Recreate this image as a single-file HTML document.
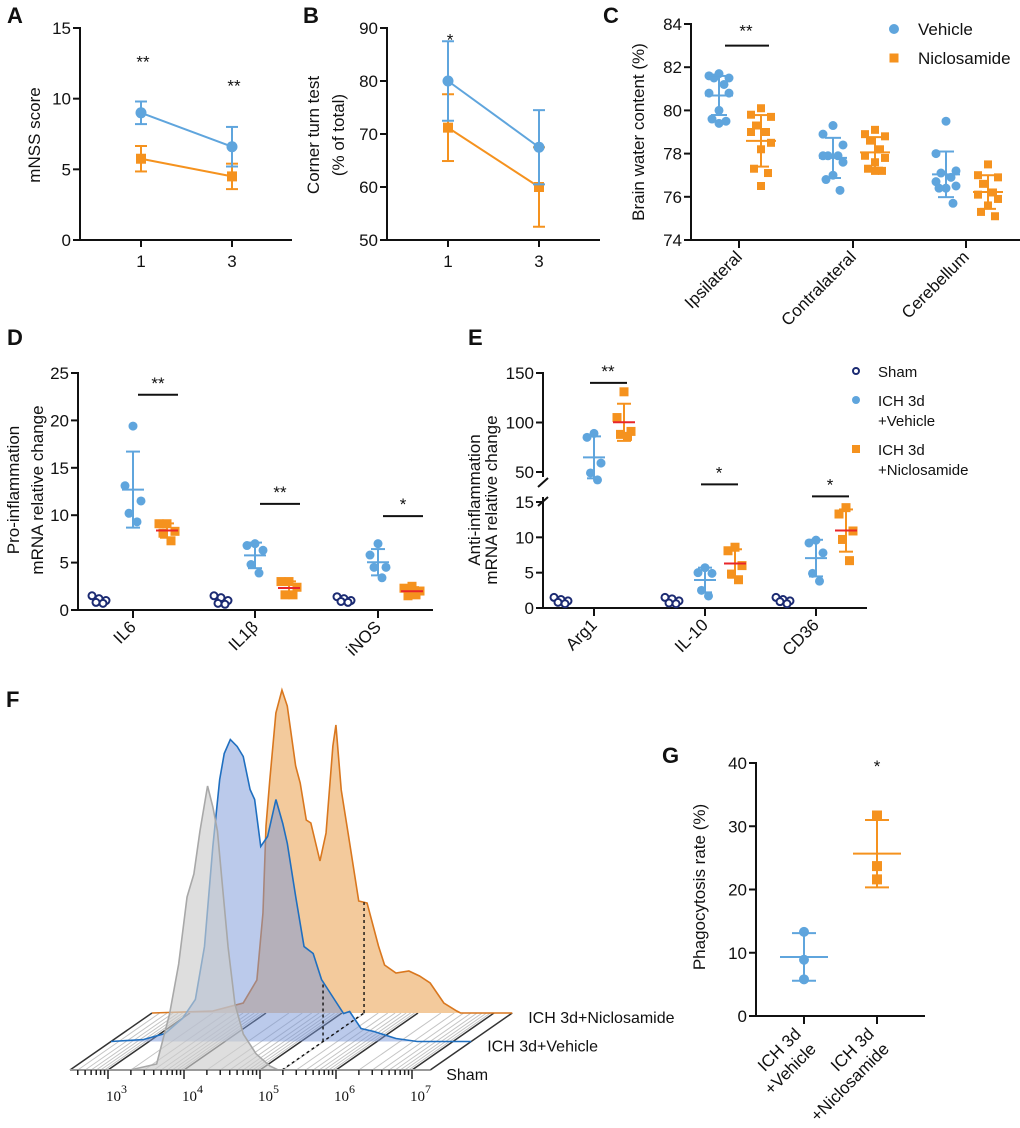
<!DOCTYPE html>
<html><head><meta charset="utf-8">
<style>
html,body{margin:0;padding:0;background:#fff;}
svg{display:block;font-family:"Liberation Sans",Arial,sans-serif;}
</style></head>
<body>
<svg id="fig" width="1020" height="1128" viewBox="0 0 1020 1128" xmlns="http://www.w3.org/2000/svg"></svg>
<script>
// ---------- DATA ----------
// Panel A (mNSS)
const aDays = [1, 3];
const aVehMean = [9.0, 6.6];
const aVehSD = [0.8, 1.4];
const aNicMean = [5.75, 4.5];
const aNicSD = [0.9, 0.9];
const aTicks = [0, 5, 10, 15];
const aSig = ['**', '**'];
const aSigY = [12.9, 11.2];
// Panel B (corner turn)
const bDays = [1, 3];
const bVehMean = [80, 67.5];
const bVehSD = [7.5, 7.0];
const bNicMean = [71.2, 60];
const bNicSD = [6.3, 7.5];
const bTicks = [50, 60, 70, 80, 90];
const bSig = ['*', ''];
const bSigY = [88.6, 0];
// Panel C (brain water)
const cCats = ['Ipsilateral', 'Contralateral', 'Cerebellum'];
const cVeh = [
  [81.7, 81.6, 81.5, 81.5, 81.2, 80.8, 80.8, 80.0, 79.6, 79.5, 79.4],
  [79.3, 78.9, 78.4, 77.9, 77.9, 77.9, 77.6, 77.0, 76.8, 76.3],
  [79.5, 78.0, 77.2, 77.1, 76.9, 76.7, 76.5, 76.4, 76.4, 75.7]
];
const cNic = [
  [80.1, 79.8, 79.7, 79.3, 79.0, 79.0, 78.5, 78.2, 77.3, 77.1, 76.5],
  [79.1, 78.9, 78.8, 78.6, 78.2, 77.9, 77.8, 77.6, 77.3, 77.2, 77.2],
  [77.5, 77.0, 76.9, 76.6, 76.2, 76.1, 75.9, 75.6, 75.3, 75.1]
];
const cTicks = [74, 76, 78, 80, 82, 84];
const cSigCat = [0];
const cSigY = [83.0];
const cSigLbl = ['**'];
// Panel D (pro-inflammation)
const dCats = ['IL6', 'IL1\u03b2', 'iNOS'];
const dSham = [[1.5, 1.2, 1.0, 0.8, 0.7], [1.5, 1.3, 1.0, 0.7, 0.6], [1.4, 1.2, 1.0, 0.9, 0.8]];
const dVeh = [[19.4, 13.1, 11.5, 10.2, 9.3], [7.0, 6.8, 6.3, 4.8, 3.9], [7.0, 5.8, 4.5, 4.5, 3.4]];
const dNic = [[9.1, 9.1, 8.3, 8.1, 7.3], [3.0, 3.0, 2.4, 1.6, 1.6], [2.5, 2.3, 2.0, 1.5, 1.6]];
const dTicks = [0, 5, 10, 15, 20, 25];
const dSigY = [22.7, 11.2, 9.9];
const dSigLbl = ['**', '**', '*'];
// Panel E (anti-inflammation)
const eCats = ['Arg1', 'IL-10', 'CD36'];
const eSham = [[1.5, 1.2, 1.0, 0.8, 0.6], [1.5, 1.3, 1.0, 0.7, 0.6], [1.5, 1.2, 1.0, 0.9, 0.6]];
const eVeh = [[89, 85, 59, 49, 42], [5.7, 5.0, 4.9, 2.5, 1.7], [9.6, 9.2, 7.8, 4.9, 3.8]];
const eNic = [[131, 105, 91, 88, 86], [8.6, 8.1, 6.0, 4.8, 4.0], [14.2, 13.3, 10.9, 9.7, 6.7]];
const eTicksLow = [0, 5, 10, 15];
const eTicksHigh = [50, 100, 150];
const eSigY = [140, 17.5, 15.8];
const eSigLbl = ['**', '*', '*'];
// Panel F (flow histograms) log10 fluorescence vs counts
const fShamLog = [3.29, 3.64, 3.81, 3.93, 4.04, 4.13, 4.21, 4.31, 4.38, 4.44, 4.50, 4.58, 4.67, 4.78, 4.95, 5.13, 5.24];
const fShamCnt = [0, 6, 56, 106, 173, 196, 239, 284, 263, 239, 189, 123, 66, 36, 16, 4, 0];
const fVehLog = [2.50, 2.93, 3.21, 3.44, 3.61, 3.73, 3.84, 3.93, 3.99, 4.07, 4.16, 4.24, 4.33, 4.39, 4.47, 4.56, 4.67, 4.76, 4.82, 4.93, 5.04, 5.16, 5.27, 5.44, 5.56, 5.64, 5.79, 5.96, 6.25, 6.53, 7.24];
const fVehCnt = [0, 2, 8, 23, 42, 95, 195, 262, 288, 302, 295, 285, 252, 242, 195, 205, 242, 218, 198, 145, 95, 88, 62, 42, 28, 30, 13, 10, 3, 0, 0];
const fNicLog = [2.50, 3.30, 3.70, 3.88, 3.96, 4.00, 4.05, 4.13, 4.21, 4.28, 4.39, 4.45, 4.53, 4.59, 4.71, 4.79, 4.88, 4.92, 4.99, 5.08, 5.22, 5.33, 5.48, 5.56, 5.71, 5.88, 6.02, 6.16, 6.34, 6.51, 6.56, 7.24];
const fNicCnt = [0, 2, 10, 33, 100, 187, 233, 300, 323, 307, 247, 230, 193, 190, 152, 180, 267, 288, 223, 180, 112, 110, 67, 48, 40, 42, 37, 30, 10, 2, 0, 0];
const fDecades = [3, 4, 5, 6, 7];
const fGateLog = 5.29;
const fLayerNames = ['Sham', 'ICH 3d+Vehicle', 'ICH 3d+Niclosamide'];
// Panel G (phagocytosis)
const gCats = ['ICH 3d|+Vehicle', 'ICH 3d|+Niclosamide'];
const gVeh = [13.3, 8.9, 5.8];
const gNic = [31.7, 23.7, 21.6];
const gTicks = [0, 10, 20, 30, 40];

// ---------- HELPERS ----------
const NS = 'http://www.w3.org/2000/svg';
const svg = document.getElementById('fig');
const BLUE = '#5fa5dd', ORANGE = '#f5921e', NAVY = '#1b2a72', RED = '#e8262a';
function mk(tag, attrs, name, parent) {
  const el = document.createElementNS(NS, tag);
  for (const k in attrs) el.setAttribute(k, attrs[k]);
  
  
  (parent || svg).appendChild(el);
  return el;
}
function txt(x, y, s, size, name, extra) {
  const a = Object.assign({x: x, y: y, 'font-size': size, fill: '#111'}, extra || {});
  const el = mk('text', a, name);
  el.textContent = s;
  return el;
}
function line(x1, y1, x2, y2, color, w, name, extra) {
  return mk('line', Object.assign({x1: x1, y1: y1, x2: x2, y2: y2, stroke: color, 'stroke-width': w}, extra || {}), name);
}
function marker(type, x, y, s, color, name) {
  if (type === 'circle') return mk('circle', {cx: x, cy: y, r: s / 2, fill: color}, name);
  if (type === 'open') return mk('circle', {cx: x, cy: y, r: s / 2 - 1, fill: 'white', stroke: color, 'stroke-width': 2}, name);
  return mk('rect', {x: x - s / 2, y: y - s / 2, width: s, height: s, fill: color}, name);
}
function meanOf(a) { return a.reduce((s, v) => s + v, 0) / a.length; }
function sdOf(a) { const m = meanOf(a); return Math.sqrt(a.reduce((s, v) => s + (v - m) * (v - m), 0) / (a.length - 1)); }
function yLinear(v0, v1, p0, p1) { return v => p0 + (v - v0) * (p1 - p0) / (v1 - v0); }
function rotLabel(x, y, s, size, name, anchor) {
  return txt(x, y, s, size, name, {'text-anchor': anchor || 'end', transform: 'rotate(-45 ' + x + ' ' + y + ')'});
}
function yTitle(cx, cy, s, name) {
  return txt(cx, cy, s, 17, name, {'text-anchor': 'middle', transform: 'rotate(-90 ' + cx + ' ' + cy + ')'});
}
function yAxis(ax, yTop, yBot, ticks, yFn, name) {
  line(ax, yTop - 1, ax, yBot + 1, '#111', 2, name + '-line');
  ticks.forEach(t => {
    const y = yFn(t);
    line(ax - 7, y, ax, y, '#111', 2, name + '-tick');
    txt(ax - 9, y + 6, String(t), 17, name + '-tick-label', {'text-anchor': 'end'});
  });
}
function errBar(x, yHi, yLo, cap, color, name) {
  line(x, yHi, x, yLo, color, 2, name);
  line(x - cap, yHi, x + cap, yHi, color, 2, name + '-cap');
  line(x - cap, yLo, x + cap, yLo, color, 2, name + '-cap');
}
const SHAM_JIT = [-7, 0, 7, -3, 4];

// ---------- LINE PANELS A, B ----------
function linePanel(p) {
  const yFn = yLinear(p.ticks[0], p.ticks[p.ticks.length - 1], p.yBot, p.yTop);
  const xFn = d => p.x1 + (d - p.days[0]) * (p.x3 - p.x1) / (p.days[1] - p.days[0]);
  yAxis(p.ax, p.yTop, p.yBot, p.ticks, yFn, p.name + '-y-axis');
  line(p.ax - 1, p.yBot, p.xEnd, p.yBot, '#111', 2, p.name + '-x-axis');
  p.days.forEach(d => {
    line(xFn(d), p.yBot, xFn(d), p.yBot + 7, '#111', 2, p.name + '-x-tick');
    txt(xFn(d), p.yBot + 27, String(d), 17, p.name + '-x-tick-label', {'text-anchor': 'middle'});
  });
  const series = [[p.nicMean, p.nicSD, ORANGE, 'square', 'niclosamide'], [p.vehMean, p.vehSD, BLUE, 'circle', 'vehicle']];
  series.forEach(s => {
    const pts = p.days.map((d, i) => xFn(d) + ',' + yFn(s[0][i])).join(' ');
    mk('polyline', {points: pts, fill: 'none', stroke: s[2], 'stroke-width': 2}, p.name + '-' + s[4] + '-line');
    p.days.forEach((d, i) => {
      errBar(xFn(d), yFn(s[0][i] + s[1][i]), yFn(s[0][i] - s[1][i]), 6, s[2], p.name + '-' + s[4] + '-error-bar');
      marker(s[3], xFn(d), yFn(s[0][i]), s[3] === 'circle' ? 11 : 10, s[2], p.name + '-' + s[4] + '-point');
    });
  });
  p.sig.forEach((s, i) => { if (s) txt(xFn(p.days[i]) + 2, yFn(p.sigY[i]) + 10, s, 17, p.name + '-significance', {'text-anchor': 'middle'}); });
}
linePanel({name: 'panel-a', ax: 80, yTop: 28, yBot: 240, xEnd: 292, x1: 141, x3: 232, days: aDays, ticks: aTicks,
  vehMean: aVehMean, vehSD: aVehSD, nicMean: aNicMean, nicSD: aNicSD, sig: aSig, sigY: aSigY});
linePanel({name: 'panel-b', ax: 387, yTop: 28, yBot: 240, xEnd: 600, x1: 448, x3: 539, days: bDays, ticks: bTicks,
  vehMean: bVehMean, vehSD: bVehSD, nicMean: bNicMean, nicSD: bNicSD, sig: bSig, sigY: bSigY});
yTitle(40, 135, 'mNSS score', 'panel-a-y-title');
yTitle(319, 135, 'Corner turn test', 'panel-b-y-title');
yTitle(344, 135, '(% of total)', 'panel-b-y-title-2');

// ---------- SCATTER PANELS ----------
function jitterFor(n, i, w) {
  const pat = [0, -1, 1, -0.5, 0.5, -1, 1, 0, -0.7, 0.7, 0];
  return pat[i % pat.length] * w;
}
function scatterGroup(vals, cx, yFn, g, name) {
  vals.forEach((v, i) => marker(g.marker, cx + jitterFor(vals.length, i, g.jit), yFn(v), g.size, g.color, name + '-point'));
  const m = meanOf(vals), sd = sdOf(vals);
  errBar(cx, yFn(m + sd), yFn(m - sd), g.cap, g.color, name + '-sd');
  line(cx - g.mean, yFn(m), cx + g.mean, yFn(m), g.meanColor, 2, name + '-mean');
}

// Panel C
(function () {
  const yFn = yLinear(74, 84, 240, 24);
  yAxis(691, 24, 240, cTicks, yFn, 'panel-c-y-axis');
  line(690, 240, 1020, 240, '#111', 2, 'panel-c-x-axis');
  const catX = [739, 853, 966];
  cCats.forEach((c, i) => {
    line(catX[i], 240, catX[i], 248, '#111', 2, 'panel-c-x-tick');
    rotLabel(catX[i] + 4, 258, c, 17, 'panel-c-x-label');
    scatterGroup(cVeh[i], catX[i] - 20, yFn, {marker: 'circle', size: 9, color: BLUE, meanColor: BLUE, jit: 10, cap: 8, mean: 14}, 'panel-c-vehicle');
    scatterGroup(cNic[i], catX[i] + 22, yFn, {marker: 'square', size: 8, color: ORANGE, meanColor: ORANGE, jit: 10, cap: 8, mean: 15}, 'panel-c-niclosamide');
  });
  cSigCat.forEach((ci, k) => {
    line(catX[ci] - 14, yFn(cSigY[k]), catX[ci] + 30, yFn(cSigY[k]), '#111', 2, 'panel-c-significance-bar');
    txt(catX[ci] + 7, yFn(cSigY[k]) - 9, cSigLbl[k], 17, 'panel-c-significance', {'text-anchor': 'middle'});
  });
  yTitle(644, 132, 'Brain water content (%)', 'panel-c-y-title');
  marker('circle', 894, 29, 10, BLUE, 'legend-vehicle-marker');
  txt(918, 35, 'Vehicle', 17, 'legend-vehicle-label');
  marker('square', 894, 58, 9, ORANGE, 'legend-niclosamide-marker');
  txt(918, 64, 'Niclosamide', 17, 'legend-niclosamide-label');
})();

// Panel D
(function () {
  const yFn = yLinear(0, 25, 610, 373);
  yAxis(78, 373, 610, dTicks, yFn, 'panel-d-y-axis');
  line(77, 610, 433, 610, '#111', 2, 'panel-d-x-axis');
  const catX = [133, 255, 378];
  dCats.forEach((c, i) => {
    line(catX[i], 610, catX[i], 618, '#111', 2, 'panel-d-x-tick');
    rotLabel(catX[i] + 4, 628, c, 17, 'panel-d-x-label');
    dSham[i].forEach((v, k) => marker('open', catX[i] - 34 + SHAM_JIT[k], yFn(v), 9, NAVY, 'panel-d-sham-point'));
    scatterGroup(dVeh[i], catX[i], yFn, {marker: 'circle', size: 9, color: BLUE, meanColor: BLUE, jit: 8, cap: 7, mean: 11}, 'panel-d-vehicle');
    scatterGroup(dNic[i], catX[i] + 34, yFn, {marker: 'square', size: 9, color: ORANGE, meanColor: RED, jit: 8, cap: 7, mean: 11}, 'panel-d-niclosamide');
    line(catX[i] + 5, yFn(dSigY[i]), catX[i] + 45, yFn(dSigY[i]), '#111', 2, 'panel-d-significance-bar');
    txt(catX[i] + 25, yFn(dSigY[i]) - 6, dSigLbl[i], 17, 'panel-d-significance', {'text-anchor': 'middle'});
  });
  yTitle(19, 490, 'Pro-inflammation', 'panel-d-y-title');
  yTitle(43, 490, 'mRNA relative change', 'panel-d-y-title-2');
})();

// Panel E (broken axis)
(function () {
  const lo = yLinear(0, 15, 608, 502), hi = yLinear(50, 150, 472, 373);
  const yFn = v => v <= 20 ? lo(v) : hi(v);
  line(543, 372, 543, 477, '#111', 2, 'panel-e-y-axis-upper');
  line(543, 497, 543, 609, '#111', 2, 'panel-e-y-axis-lower');
  line(538, 487, 548, 478, '#111', 2, 'panel-e-axis-break');
  line(538, 506, 548, 497, '#111', 2, 'panel-e-axis-break');
  eTicksLow.concat(eTicksHigh).forEach(t => {
    const y = yFn(t);
    line(536, y, 543, y, '#111', 2, 'panel-e-y-tick');
    txt(534, y + 6, String(t), 17, 'panel-e-y-tick-label', {'text-anchor': 'end'});
  });
  line(542, 608, 867, 608, '#111', 2, 'panel-e-x-axis');
  const catX = [594, 705, 816];
  eCats.forEach((c, i) => {
    line(catX[i], 608, catX[i], 616, '#111', 2, 'panel-e-x-tick');
    rotLabel(catX[i] + 4, 626, c, 17, 'panel-e-x-label');
    eSham[i].forEach((v, k) => marker('open', catX[i] - 33 + SHAM_JIT[k], yFn(v), 9, NAVY, 'panel-e-sham-point'));
    scatterGroup(eVeh[i], catX[i], yFn, {marker: 'circle', size: 9, color: BLUE, meanColor: BLUE, jit: 7, cap: 7, mean: 11}, 'panel-e-vehicle');
    scatterGroup(eNic[i], catX[i] + 30, yFn, {marker: 'square', size: 9, color: ORANGE, meanColor: RED, jit: 7, cap: 7, mean: 11}, 'panel-e-niclosamide');
    line(catX[i] - 4, yFn(eSigY[i]), catX[i] + 33, yFn(eSigY[i]), '#111', 2, 'panel-e-significance-bar');
    txt(catX[i] + 14, yFn(eSigY[i]) - 6, eSigLbl[i], 17, 'panel-e-significance', {'text-anchor': 'middle'});
  });
  yTitle(480, 500, 'Anti-inflammation', 'panel-e-y-title');
  yTitle(497, 500, 'mRNA relative change', 'panel-e-y-title-2');
  marker('open', 856, 371, 8, NAVY, 'legend-sham-marker');
  txt(878, 377, 'Sham', 15, 'legend-sham-label');
  marker('circle', 856, 400, 8, BLUE, 'legend-ich-vehicle-marker');
  txt(878, 406, 'ICH 3d', 15, 'legend-ich-vehicle-label');
  txt(878, 426, '+Vehicle', 15, 'legend-ich-vehicle-label-2');
  marker('square', 856, 449, 8, ORANGE, 'legend-ich-niclosamide-marker');
  txt(878, 455, 'ICH 3d', 15, 'legend-ich-niclosamide-label');
  txt(878, 475, '+Niclosamide', 15, 'legend-ich-niclosamide-label-2');
})();

// Panel G
(function () {
  const yFn = yLinear(0, 40, 1016, 763);
  yAxis(756, 763, 1016, gTicks, yFn, 'panel-g-y-axis');
  line(755, 1016, 925, 1016, '#111', 2, 'panel-g-x-axis');
  const catX = [804, 877];
  gCats.forEach((c, i) => {
    line(catX[i], 1016, catX[i], 1024, '#111', 2, 'panel-g-x-tick');
    const parts = c.split('|');
    rotLabel(catX[i] - 2, 1035, parts[0], 17, 'panel-g-x-label');
    rotLabel(catX[i] + 13, 1050, parts[1], 17, 'panel-g-x-label-2');
  });
  scatterGroup(gVeh, catX[0], yFn, {marker: 'circle', size: 10, color: BLUE, meanColor: BLUE, jit: 0, cap: 12, mean: 24}, 'panel-g-vehicle');
  scatterGroup(gNic, catX[1], yFn, {marker: 'square', size: 10, color: ORANGE, meanColor: ORANGE, jit: 0, cap: 12, mean: 24}, 'panel-g-niclosamide');
  txt(catX[1], yFn(38.6), '*', 17, 'panel-g-significance', {'text-anchor': 'middle'});
  yTitle(705, 887, 'Phagocytosis  rate (%)', 'panel-g-y-title');
})();

// ---------- PANEL F ----------
(function () {
  const fx = l => 108 + (l - 3) * 76;
  const DX = 41, DY = -28.5, BASE = 1070;
  const lmin = 2.5, lmax = 7.24;
  for (let d = 2; d <= 7; d++) {
    for (let m = 1; m <= 9; m++) {
      const l = d + Math.log10(m);
      if (l < lmin || l > lmax) continue;
      const major = m === 1;
      line(fx(l), BASE, fx(l) + 2 * DX, BASE + 2 * DY, major ? '#333' : '#c4c4c4', major ? 1.5 : 1, major ? 'floor-decade-line' : 'floor-hatch-line');
    }
  }
  line(fx(lmin), BASE, fx(lmin) + 2 * DX, BASE + 2 * DY, '#333', 1.5, 'floor-left-edge');
  line(fx(lmax), BASE, fx(lmax) + 2 * DX, BASE + 2 * DY, '#333', 1.5, 'floor-right-edge');
  function hist(logs, cnts, layer, fill, stroke, name) {
    const ox = DX * layer, base = BASE + DY * layer;
    let d = 'M' + (fx(logs[0]) + ox) + ',' + base;
    logs.forEach((l, i) => { d += ' L' + (fx(l) + ox) + ',' + (base - cnts[i]); });
    d += ' L' + (fx(logs[logs.length - 1]) + ox) + ',' + base + ' Z';
    mk('path', {d: d, fill: fill, stroke: 'none'}, name + '-fill');
    let d2 = 'M' + (fx(lmin) + ox) + ',' + base;
    logs.forEach((l, i) => { d2 += ' L' + (fx(l) + ox) + ',' + (base - cnts[i]); });
    d2 += ' L' + (fx(lmax) + ox) + ',' + base;
    mk('path', {d: d2, fill: 'none', stroke: stroke, 'stroke-width': 1.6}, name + '-outline');
  }
  function interp(logs, cnts, l) {
    for (let i = 1; i < logs.length; i++) if (logs[i] >= l) {
      const t = (l - logs[i - 1]) / (logs[i] - logs[i - 1]);
      return cnts[i - 1] + t * (cnts[i] - cnts[i - 1]);
    }
    return 0;
  }
  hist(fNicLog, fNicCnt, 2, 'rgba(242,196,145,0.9)', '#d9771e', 'histogram-niclosamide');
  hist(fVehLog, fVehCnt, 1, 'rgba(120,150,215,0.5)', '#1f6fc0', 'histogram-vehicle');
  hist(fShamLog, fShamCnt, 0, 'rgba(205,205,205,0.65)', '#a8a8a8', 'histogram-sham');
  const g0 = fx(fGateLog);
  line(g0, BASE, g0 + 2 * DX, BASE + 2 * DY, '#111', 1.4, 'gate-diagonal', {'stroke-dasharray': '3,3'});
  const hv = interp(fVehLog, fVehCnt, fGateLog), hn = interp(fNicLog, fNicCnt, fGateLog);
  line(g0 + DX, BASE + DY, g0 + DX, BASE + DY - hv, '#111', 1.4, 'gate-vehicle', {'stroke-dasharray': '3,3'});
  line(g0 + 2 * DX, BASE + 2 * DY, g0 + 2 * DX, BASE + 2 * DY - hn, '#111', 1.4, 'gate-niclosamide', {'stroke-dasharray': '3,3'});
  line(fx(lmin), BASE, fx(lmax), BASE, '#999', 2, 'f-x-axis');
  for (let d = 2; d <= 7; d++) {
    for (let m = 1; m <= 9; m++) {
      const l = d + Math.log10(m);
      if (l < lmin || l > lmax) continue;
      line(fx(l), BASE, fx(l), BASE + (m === 1 ? 9 : 5), '#222', 1.5, 'f-x-tick');
    }
  }
  fDecades.forEach(dcd => {
    const t = txt(fx(dcd) - 2, 1101, '10', 15, 'f-x-tick-label', {'font-family': '"Liberation Serif", serif'});
    const sup = mk('tspan', {dy: -8, 'font-size': 12}, 'f-x-tick-exponent', t);
    sup.textContent = String(dcd);
  });
  fLayerNames.forEach((n, i) => {
    txt(fx(lmax) + DX * i + 16, BASE + DY * i + 10, n, 16, 'f-layer-label');
  });
})();

// ---------- PANEL LETTERS ----------
[['A', 7, 23], ['B', 303, 23], ['C', 603, 23], ['D', 7, 345], ['E', 468, 345], ['F', 6, 707], ['G', 662, 763]].forEach(p => {
  txt(p[1], p[2], p[0], 22, 'panel-label-' + p[0].toLowerCase(), {'font-weight': 'bold'});
});
</script>
</body></html>
